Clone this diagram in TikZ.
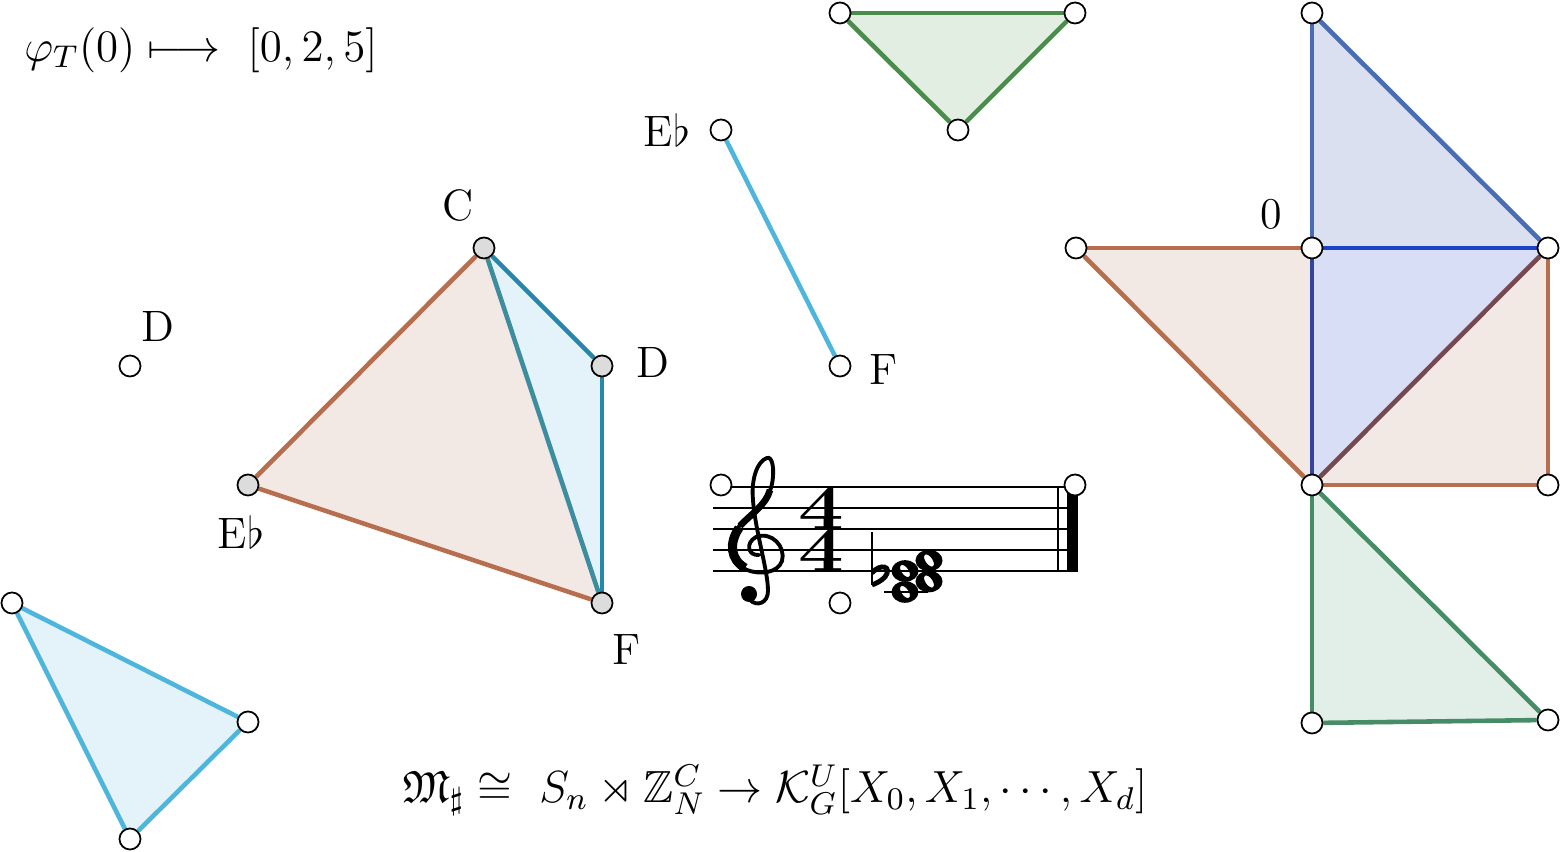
\RequirePackage{fix-cm}
\documentclass[tikz,border=0pt]{standalone}
\usepackage{amssymb}
\usepackage{graphicx}
\pgfdeclarelayer{background}
\pgfsetlayers{background,main}
\definecolor{brE}{RGB}{183,110,78}
\definecolor{brF}{RGB}{243,233,228}
\definecolor{lbE}{RGB}{78,182,220}
\definecolor{lbF}{RGB}{228,243,249}
\definecolor{tlE}{RGB}{38,136,168}
\definecolor{tgE}{RGB}{62,140,160}
\definecolor{grE}{RGB}{74,140,74}
\definecolor{grF}{RGB}{226,238,226}
\definecolor{gbE}{RGB}{70,140,100}
\definecolor{gbF}{RGB}{226,238,232}
\definecolor{buE}{RGB}{72,108,182}
\definecolor{buF}{RGB}{218,224,240}
\definecolor{bmF}{RGB}{216,222,246}
\definecolor{bbE}{RGB}{28,66,200}
\definecolor{dbE}{RGB}{52,66,160}
\definecolor{pbE}{RGB}{118,72,80}
\definecolor{vgray}{RGB}{220,220,220}
\begin{document}
\begin{tikzpicture}[x=0.01cm,y=-0.01cm,
  vtx/.style={circle,draw=black,fill=white,line width=0.5pt,inner sep=0pt,minimum size=0.21cm},
  gvtx/.style={vtx,fill=vgray},
  lbl/.style={font=\fontsize{12.5}{15}\selectfont,inner sep=0pt},
  fml/.style={font=\fontsize{12.8}{15}\selectfont,inner sep=0pt},
  edge/.style={line width=1.3pt},
  staffline/.style={line width=0.7pt},
  tsig/.style={font=\fontsize{18.5}{18.5}\bfseries,inner sep=0pt}
]
\useasboundingbox (0,0) rectangle (1562,852);

% vertices
\node[vtx] (g1) at (840,13) {};
\node[vtx] (g2) at (1075,13) {};
\node[vtx] (g3) at (958,130) {};
\node[vtx] (eb1) at (721,130) {};
\node[vtx] (f1) at (840,366) {};
\node[gvtx] (qC) at (484,248) {};
\node[gvtx] (qD) at (602,366) {};
\node[gvtx] (qE) at (248,485) {};
\node[gvtx] (qF) at (602,603) {};
\node[vtx] (d0) at (130,366) {};
\node[vtx] (t1) at (12,603) {};
\node[vtx] (t2) at (248,722) {};
\node[vtx] (t3) at (130,839) {};
\node[vtx] (r1) at (1312,13) {};
\node[vtx] (r2) at (1076,248) {};
\node[vtx] (r3) at (1312,248) {};
\node[vtx] (r4) at (1548,248) {};
\node[vtx] (r5) at (1312,485) {};
\node[vtx] (r6) at (1548,485) {};
\node[vtx] (r7) at (1312,723) {};
\node[vtx] (r8) at (1548,720) {};
\node[vtx] (s1) at (721,485) {};
\node[vtx] (s2) at (1075,485) {};
\node[vtx] (s3) at (840,603) {};

% labels
\node[lbl] (lC) at (458,205) {C};
\node[lbl] (lD) at (653,362) {D};
\node[lbl] (lE) at (241,532) {E$\flat$};
\node[lbl] (lF) at (627,650) {F};
\node[lbl] (lD0) at (158,326) {D};
\node[lbl] (lE1) at (667,130) {E$\flat$};
\node[lbl] (lF1) at (884,370) {F};
\node[lbl] (l0) at (1271,214) {0};

\node[fml] (phi) at (201,50) {$\varphi_T(0) \longmapsto\ [0,2,5]$};
\node[fml] (form) at (775,790) {$\mathfrak{M}_\sharp \cong\ S_n \rtimes \mathbb{Z}_N^C \to \mathcal{K}_G^U[X_0, X_1, \cdots, X_d]$};

\begin{pgfonlayer}{background}
% fills
\fill[brF] (r2.center) -- (r3.center) -- (r5.center) -- cycle;
\fill[brF] (r4.center) -- (r5.center) -- (r6.center) -- cycle;
\fill[buF] (r1.center) -- (r3.center) -- (r4.center) -- cycle;
\fill[bmF] (r3.center) -- (r4.center) -- (r5.center) -- cycle;
\fill[gbF] (r5.center) -- (r7.center) -- (r8.center) -- cycle;
\fill[grF] (g1.center) -- (g2.center) -- (g3.center) -- cycle;
\fill[brF] (qC.center) -- (qE.center) -- (qF.center) -- cycle;
\fill[lbF] (qC.center) -- (qD.center) -- (qF.center) -- cycle;
\fill[lbF] (t1.center) -- (t2.center) -- (t3.center) -- cycle;
% edges
\draw[edge,brE] (r2) -- (r3);
\draw[edge,brE] (r2) -- (r5);
\draw[edge,brE] (r5) -- (r6);
\draw[edge,brE] (r6) -- (r4);
\draw[edge,dbE] (r3) -- (r5);
\draw[edge,bbE] (r3) -- (r4);
\draw[edge,pbE] (r4) -- (r5);
\draw[edge,buE] (r1) -- (r3);
\draw[edge,buE] (r1) -- (r4);
\draw[edge,gbE] (r5) -- (r7);
\draw[edge,gbE] (r7) -- (r8);
\draw[edge,gbE] (r5) -- (r8);
\draw[edge,grE] (g1) -- (g2);
\draw[edge,grE] (g2) -- (g3);
\draw[edge,grE] (g3) -- (g1);
\draw[edge,lbE] (eb1) -- (f1);
\draw[edge,brE] (qC) -- (qE);
\draw[edge,brE] (qE) -- (qF);
\draw[edge,tgE] (qC) -- (qF);
\draw[edge,tlE] (qC) -- (qD);
\draw[edge,tlE] (qD) -- (qF);
\draw[edge,lbE] (t1) -- (t2);
\draw[edge,lbE] (t2) -- (t3);
\draw[edge,lbE] (t3) -- (t1);

% staff
\foreach \yy in {487,508,529,550,571} \draw[staffline] (713,\yy) -- (1078,\yy);
\draw[line width=0.7pt] (1058,487) -- (1058,571);
\fill (1067,487) rectangle (1078,571);
\draw[line width=0.7pt] (884,592) -- (928,592);
% treble clef
\draw[line width=1.1pt,line cap=round]
  (759,555) .. controls (748,556) and (745,543) .. (756,537)
  .. controls (772,531) and (786,547) .. (782,561)
  .. controls (778,573) and (760,575) .. (747,570)
  .. controls (730,562) and (727,544) .. (737,529)
  .. controls (748,514) and (768,504) .. (772,484)
  .. controls (775,468) and (772,456) .. (767,458)
  .. controls (757,461) and (751,480) .. (753,500)
  .. controls (755,530) and (768,570) .. (768,591)
  .. controls (768,603) and (757,607) .. (750,600);
\draw[line width=2.6pt] (745,568) .. controls (730,559) and (729,543) .. (739,528);
\draw[line width=1.9pt] (740,526) .. controls (751,514) and (766,505) .. (770,490);
\fill (749,594) circle [radius=0.08cm];
% time signature
\node[tsig] (ts1) at (821,508) {\scalebox{1.25}[1]{4}};
\node[tsig] (ts2) at (821,550) {\scalebox{1.25}[1]{4}};
% flat
\draw[line width=0.7pt] (872,532) -- (872,585);
\draw[line width=1.4pt] (872,573) .. controls (880,563) and (893,566) .. (885,577) .. controls (881,581) and (877,583) .. (872,585);
% whole notes
\foreach \nx/\ny in {905/592,905/571,929/581.5,929/560.5}
  \fill[even odd rule] (\nx,\ny) ellipse [x radius=0.135cm, y radius=0.108cm]
     (\nx,\ny) ellipse [x radius=0.035cm, y radius=0.07cm, rotate=35];
\end{pgfonlayer}
\end{tikzpicture}
\end{document}
